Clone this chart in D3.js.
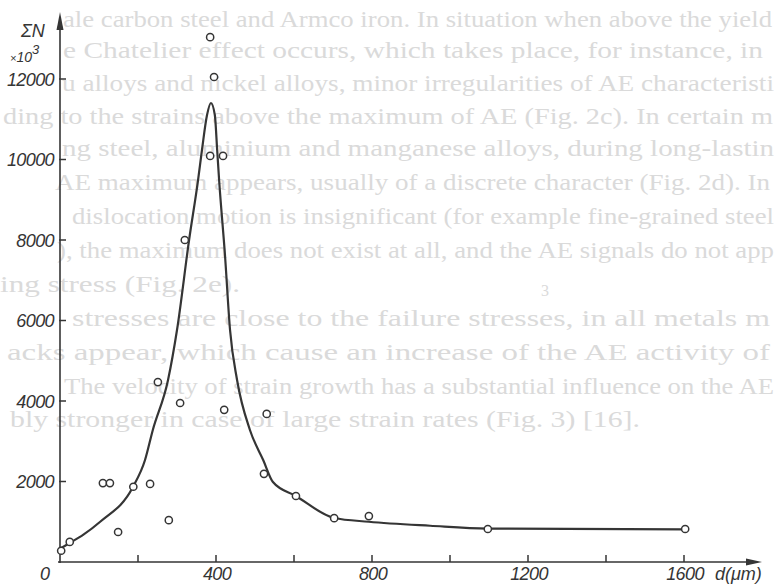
<!DOCTYPE html>
<html>
<head>
<meta charset="utf-8">
<script src="https://cdn.jsdelivr.net/npm/d3@7"></script>
<style>
  html, body { margin: 0; padding: 0; background: #ffffff; }
  svg { display: block; }
</style>
</head>
<body>
<svg id="chart" width="774" height="585"></svg>
<script>
// ---- data ----
const xTicks = [200, 400, 600, 800, 1000, 1200, 1400, 1600];
const xTickLabels = [400, 800, 1200, 1600];
const yTicks = [2000, 4000, 6000, 8000, 10000, 12000];

// measured points: grain size d (µm), ΣN
const pointD = [3, 25, 110, 128, 149, 188, 231, 251, 279, 308, 320, 385, 395, 385, 418, 421, 523, 530, 605, 703, 792, 1097, 1603];
const pointN = [280, 500, 1960, 1960, 745, 1870, 1940, 4470, 1040, 3950, 8000, 13040, 12050, 10090, 10090, 3780, 2190, 3680, 1640, 1090, 1140, 820, 820];

// fitted curve
const curveD = [0, 26, 60, 103, 187, 218, 238, 277, 300, 331, 354, 364, 377, 387, 397, 403, 408, 423, 436, 454, 487, 521, 546, 605, 703, 792, 949, 1097, 1603];
const curveN = [330, 480, 680, 1000, 1863, 2534, 3280, 4522, 5764, 8000, 9490, 10236, 11106, 11404, 11106, 10236, 9490, 7627, 5764, 4522, 3280, 2534, 1988, 1640, 1093, 1000, 900, 830, 810];

// show-through text from the reverse side of the scanned page
const ghostLines = [
  "ale carbon steel and Armco iron. In situation when above the yield",
  "e Chatelier effect occurs, which takes place, for instance, in",
  "u alloys and nickel alloys, minor irregularities of AE characteristi",
  "ding to the strains above the maximum of AE (Fig. 2c). In certain m",
  "ng steel, aluminium and manganese alloys, during long-lastin",
  "AE maximum appears, usually of a discrete character (Fig. 2d). In",
  "dislocation motion is insignificant (for example fine-grained steel",
  "), the maximum does not exist at all, and the AE signals do not app",
  "ing stress (Fig. 2e).",
  "stresses are close to the failure stresses, in all metals m",
  "acks appear, which cause an increase of the AE activity of",
  "The velocity of strain growth has a substantial influence on the AE",
  "bly stronger in case of large strain rates (Fig. 3) [16]."
];
const ghostStart = [63, 63, 62, 3, 62, 55, 72, 57, 0, 72, 7, 64, 10];
const ghostEnd   = [772, 763, 774, 773, 774, 770, 774, 774, 240, 770, 770, 774, 640];
const ghostBase  = [27, 58, 91, 124, 156, 190, 224, 258, 292, 326, 360, 394, 427];

// ---- drawing ----
const svg = d3.select("#chart");
const ink = "#353535";

const x = d3.scaleLinear().domain([0, 1600]).range([60, 684]);
const y = d3.scaleLinear().domain([0, 12000]).range([562, 79]);

// ghost text layer
const ghost = svg.append("g")
  .attr("font-family", "'Liberation Serif', 'DejaVu Serif', serif")
  .attr("font-size", 23)
  .attr("fill", "#dadada");
ghostLines.forEach((t, i) => {
  ghost.append("text")
    .attr("x", ghostStart[i])
    .attr("y", ghostBase[i])
    .attr("textLength", ghostEnd[i] - ghostStart[i])
    .attr("lengthAdjust", "spacingAndGlyphs")
    .text(t);
});
ghost.append("text").attr("x", 541).attr("y", 296).attr("font-size", 16).text("3");

// axes
const axisG = svg.append("g").attr("stroke", ink).attr("stroke-width", 1.6).attr("fill", "none");
axisG.append("line").attr("x1", x(0) - 2).attr("x2", 750).attr("y1", y(0)).attr("y2", y(0));
axisG.append("line").attr("x1", x(0)).attr("x2", x(0)).attr("y1", y(0) + 1).attr("y2", 26);

// arrows
svg.append("path")
  .attr("d", `M${762},${y(0)} L${746},${y(0) - 3.5} L${746},${y(0) + 3.5} Z`)
  .attr("fill", ink);
svg.append("path")
  .attr("d", `M${x(0)},${12} L${x(0) - 3.5},${30} L${x(0) + 3.5},${30} Z`)
  .attr("fill", ink);

// x ticks (upward)
svg.append("g").selectAll("line").data(xTicks).join("line")
  .attr("x1", d => x(d)).attr("x2", d => x(d))
  .attr("y1", y(0)).attr("y2", y(0) - 7)
  .attr("stroke", ink).attr("stroke-width", 1.5);

// y ticks (to the right)
svg.append("g").selectAll("line").data(yTicks).join("line")
  .attr("x1", x(0) - 1).attr("x2", x(0) + 6)
  .attr("y1", d => y(d)).attr("y2", d => y(d))
  .attr("stroke", ink).attr("stroke-width", 1.5);

const labelFont = "'Liberation Sans', Arial, sans-serif";

// y tick labels
svg.append("g").selectAll("text").data(yTicks).join("text")
  .attr("x", 54).attr("y", d => y(d) + 6.5)
  .attr("text-anchor", "end")
  .attr("font-family", labelFont).attr("font-style", "italic")
  .attr("font-size", 18).attr("letter-spacing", -0.6)
  .attr("fill", ink)
  .text(d => d);

// x tick labels
svg.append("g").selectAll("text").data(xTickLabels).join("text")
  .attr("x", d => x(d) + 1).attr("y", 580)
  .attr("text-anchor", "middle")
  .attr("font-family", labelFont).attr("font-style", "italic")
  .attr("font-size", 18).attr("letter-spacing", -0.6)
  .attr("fill", ink)
  .text(d => d);
svg.append("text")
  .attr("x", 45).attr("y", 580).attr("text-anchor", "middle")
  .attr("font-family", labelFont).attr("font-style", "italic")
  .attr("font-size", 18).attr("fill", ink).text("0");

// axis titles
svg.append("text")
  .attr("x", 21).attr("y", 37)
  .attr("font-family", labelFont).attr("font-style", "italic")
  .attr("font-size", 18).attr("fill", ink).text("ΣN");
const mult = svg.append("text")
  .attr("x", 10).attr("y", 62)
  .attr("font-family", labelFont).attr("font-style", "italic")
  .attr("font-size", 14).attr("fill", ink);
mult.append("tspan").attr("font-size", 11).text("×");
mult.append("tspan").text("10");
mult.append("tspan").attr("dy", -8).attr("font-size", 13).text("3");

svg.append("text")
  .attr("x", 715).attr("y", 580)
  .attr("font-family", labelFont).attr("font-style", "italic")
  .attr("font-size", 18).attr("fill", ink).text("d(μm)");

// curve
const curveData = curveD.map((d, i) => [d, curveN[i]]);
svg.append("path")
  .datum(curveData)
  .attr("d", d3.line().x(d => x(d[0])).y(d => y(d[1])).curve(d3.curveMonotoneX))
  .attr("fill", "none").attr("stroke", ink).attr("stroke-width", 2.2);

// points
const pts = pointD.map((d, i) => [d, pointN[i]]);
svg.append("g").selectAll("circle").data(pts).join("circle")
  .attr("cx", d => x(d[0])).attr("cy", d => y(d[1]))
  .attr("r", 3.6)
  .attr("fill", "#ffffff").attr("stroke", ink).attr("stroke-width", 1.5);
</script>
</body>
</html>
